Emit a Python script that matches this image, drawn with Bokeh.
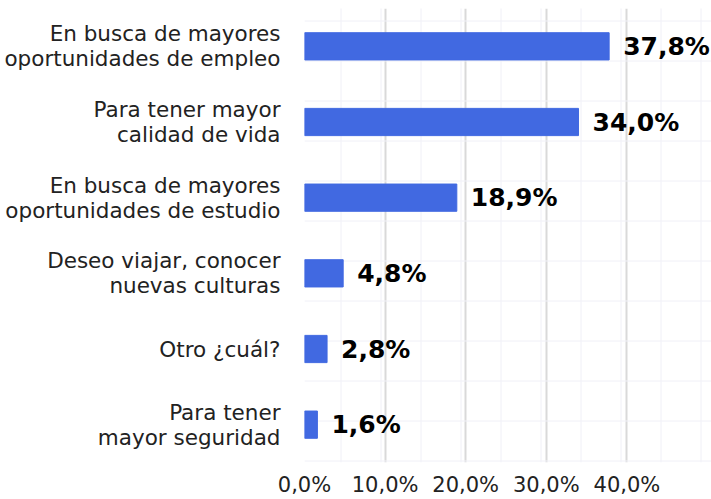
from bokeh.plotting import figure
from bokeh.models import FactorRange, Range1d, FixedTicker, ColumnDataSource, BoxAnnotation
from bokeh.core.properties import value
from bokeh.embed import file_html
from bokeh.resources import INLINE

categories = [
    "En busca de mayores\noportunidades de empleo",
    "Para tener mayor\ncalidad de vida",
    "En busca de mayores\noportunidades de estudio",
    "Deseo viajar, conocer\nnuevas culturas",
    "Otro ¿cuál?",
    "Para tener\nmayor seguridad",
]
values = [37.8, 34.0, 18.9, 4.8, 2.8, 1.6]
tick_values = [0, 10, 20, 30, 40]
tick_labels = ["0,0%", "10,0%", "20,0%", "30,0%", "40,0%"]

labels = [f"{v:.1f}".replace(".", ",") + "%" for v in values]
src = ColumnDataSource(dict(cat=categories, val=values, lab=labels))

FONT = "DejaVu Sans"

p = figure(
    width=711, height=499,
    y_range=FactorRange(*reversed(categories)),
    x_range=Range1d(0, 50.5),
    output_backend="svg", toolbar_location=None,
    min_border_left=304, min_border_right=0, min_border_top=8, min_border_bottom=37,
)
p.outline_line_color = None
p.background_fill_color = "white"
p.border_fill_color = "white"

bg = BoxAnnotation(left=0, right=711, top=0, bottom=499,
                   left_units="screen", right_units="screen",
                   top_units="screen", bottom_units="screen",
                   fill_color=None, line_color=None,
                   hatch_pattern="+", hatch_color="#f0f0f7",
                   hatch_scale=40, hatch_weight=1, level="underlay")
p.add_layout(bg)

p.hbar(y="cat", right="val", left=0, height=0.36, source=src,
       fill_color="#4169E1", line_color="#4169E1")
p.text(x="val", y="cat", text="lab", source=src, x_offset=14,
       text_baseline="middle", text_align="left",
       text_font=value(FONT), text_font_style="bold", text_font_size="25px",
       text_color="#000000")

p.ygrid.grid_line_color = None
p.xgrid.ticker = FixedTicker(ticks=tick_values)
p.xgrid.grid_line_color = "#d9d9d9"
p.xgrid.grid_line_width = 2

p.xaxis.ticker = FixedTicker(ticks=tick_values)
p.xaxis.major_label_overrides = {t: l for t, l in zip(tick_values, tick_labels)}
p.xaxis.axis_line_color = None
p.xaxis.major_tick_line_color = None
p.xaxis.minor_tick_line_color = None
p.xaxis.major_tick_out = 0
p.xaxis.major_label_standoff = 10
p.xaxis.major_label_text_font = FONT
p.xaxis.major_label_text_font_size = "21px"
p.xaxis.major_label_text_color = "#222222"

p.yaxis.axis_line_color = None
p.yaxis.major_tick_line_color = None
p.yaxis.minor_tick_line_color = None
p.yaxis.major_tick_out = 0
p.yaxis.major_label_standoff = 24
p.yaxis.major_label_text_font = FONT
p.yaxis.major_label_text_font_size = "21.5px"
p.yaxis.major_label_text_line_height = 1.0
p.yaxis.major_label_text_color = "#222222"

open("out.html", "w").write(file_html(p, INLINE))
